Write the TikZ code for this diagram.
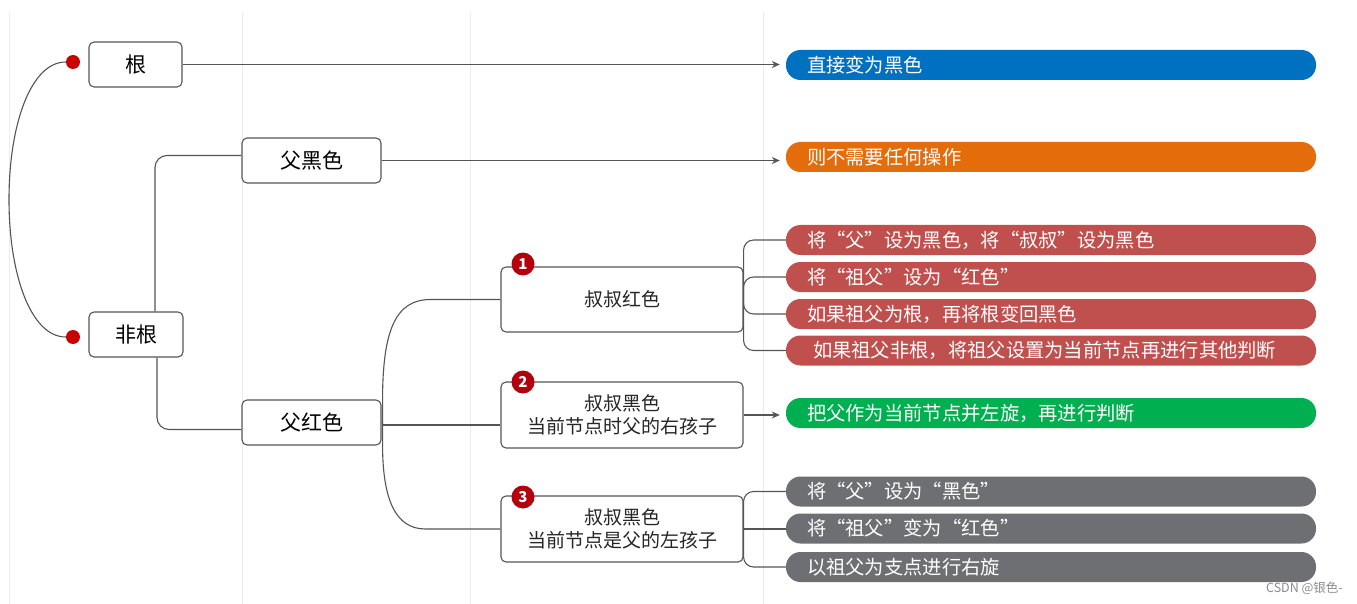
\documentclass[tikz,border=0pt]{standalone}
\usepackage{fontspec}
\setmainfont{Noto Sans CJK SC}
\usetikzlibrary{arrows.meta,calc}
\definecolor{cblue}{RGB}{0,112,192}
\definecolor{corange}{RGB}{228,108,10}
\definecolor{cred}{RGB}{192,80,77}
\definecolor{cgreen}{RGB}{0,176,80}
\definecolor{cgray}{RGB}{110,111,115}
\definecolor{cdot}{RGB}{200,0,0}
\definecolor{cbadge}{RGB}{178,0,12}
\definecolor{cline}{RGB}{85,85,85}
\definecolor{cgrid}{RGB}{236,236,236}
\tikzset{
  mainbox/.style={draw=cline, line width=1.1pt, rounded corners=5pt, fill=white,
    text=black, align=center, inner sep=0pt, font=\fontsize{21}{24}\selectfont},
  subbox/.style={draw=cline, line width=1.1pt, rounded corners=5pt, fill=white,
    text=black!85, align=center, inner sep=0pt, minimum width=242pt,
    font=\fontsize{19}{23}\selectfont},
  pill/.style={rounded corners=14.5pt, minimum height=30pt, text width=488pt,
    inner xsep=21pt, inner ysep=0pt, align=left, text=white,
    font=\fontsize{19.3}{22}\selectfont},
  conn/.style={draw=cline, line width=1.1pt},
  arr/.style={conn, -{Stealth[length=8pt,width=7pt]}, shorten >=6pt},
  dot/.style={circle, fill=cdot, minimum size=14pt, inner sep=0pt},
  badge/.style={circle, fill=cbadge, minimum size=23pt, inner sep=0pt, text=white,
    font=\fontsize{15}{15}\selectfont\bfseries},
  gridline/.style={draw=cgrid, line width=1pt}
}
\begin{document}
\begin{tikzpicture}[x=1pt,y=-1pt]
\useasboundingbox (0,0) rectangle (1357,604);
\fill[white] (0,0) rectangle (1357,604);
% faint guide lines
\draw[gridline] (9,12) -- (9,604);
\draw[gridline] (242,12) -- (242,604);
\draw[gridline] (470,12) -- (470,604);
\draw[gridline] (763,12) -- (763,604);

% main boxes
\node[mainbox, minimum width=93pt, minimum height=45pt] (root) at (135.5,64.5) {根};
\node[mainbox, minimum width=94pt, minimum height=45pt] (nonroot) at (136,334.5) {非根};
\node[mainbox, minimum width=139pt, minimum height=45pt] (fh) at (311.5,160.5) {父黑色};
\node[mainbox, minimum width=139pt, minimum height=45pt] (fr) at (311.5,422.5) {父红色};

\node[subbox, minimum height=65pt] (b1) at (622,299.5) {叔叔红色};
\node[subbox, minimum height=66pt] (b2) at (622,415) {叔叔黑色\\当前节点时父的右孩子};
\node[subbox, minimum height=66pt] (b3) at (622,529) {叔叔黑色\\当前节点是父的左孩子};

% badges
\node[badge] (n1) at (523,264) {1};
\node[badge] (n2) at (523,382) {2};
\node[badge] (n3) at (523,497) {3};

% red dots
\node[dot] (d1) at (73,62) {};
\node[dot] (d2) at (73,337) {};

% pills
\node[pill, fill=cblue] (blue) at (1051,65) {直接变为黑色};
\node[pill, fill=corange] (orange) at (1051,157) {则不需要任何操作};
\node[pill, fill=cred] (r1) at (1051,240) {将“父”设为黑色，将“叔叔”设为黑色};
\node[pill, fill=cred] (r2) at (1051,277) {将“祖父”设为“红色”};
\node[pill, fill=cred] (r3) at (1051,314) {如果祖父为根，再将根变回黑色};
\node[pill, fill=cred] (r4) at (1051,350.5) {\hspace*{6pt}如果祖父非根，将祖父设置为当前节点再进行其他判断};
\node[pill, fill=cgreen] (green) at (1051,413) {把父作为当前节点并左旋，再进行判断};
\node[pill, fill=cgray] (g1) at (1051,491.5) {将“父”设为“黑色”};
\node[pill, fill=cgray] (g2) at (1051,528.5) {将“祖父”变为“红色”};
\node[pill, fill=cgray] (g3) at (1051,567) {以祖父为支点进行右旋};

% left curve between dots
\coordinate (lm) at (9,199.5);
\draw[conn] (d1.west) .. controls (31,62) and (9,124) .. (lm)
  .. controls (9,275) and (31,337) .. (d2.west);

% root -> blue
\draw[arr] (root.east) -- (root.east -| blue.west);

% nonroot branches
\draw[conn, rounded corners=12pt] ($(nonroot.north)+(19,0)$) |- ($(fh.west)+(0,-5)$);
\draw[conn, rounded corners=12pt] ($(nonroot.south)+(21,0)$) |- ($(fr.west)+(0,7)$);

% fh -> orange
\draw[arr] (fh.east) -- (fh.east -| orange.west);

% fr branches
\draw[conn] (fr.east) -- ++(1,0) -- ++(0,-22)
  .. controls ++(0,-70) and ($(b1.west)+(-105,0)$) .. ($(b1.west)+(-70,0)$) -- (b1.west);
\coordinate (fm) at ($(fr.east)+(0,2.5)$);
\draw[conn] (fm) -- (fm -| b2.west);
\draw[conn] (fr.east) -- ++(1,0) -- ++(0,22)
  .. controls ++(0,55) and ($(b3.west)+(-105,0)$) .. ($(b3.west)+(-75,0)$) -- (b3.west);

% b1 -> red pills
\draw[conn, rounded corners=10pt] (b1.east) |- (r1.west);
\draw[conn, rounded corners=10pt] (b1.east) |- (r2.west);
\draw[conn, rounded corners=10pt] (b1.east) |- (r3.west);
\draw[conn, rounded corners=10pt] (b1.east) |- (r4.west);

% b2 -> green
\draw[arr] (b2.east) -- (b2.east -| green.west);

% b3 -> gray pills
\draw[conn, rounded corners=10pt] (b3.east) |- (g1.west);
\draw[conn] (b3.east) -- (b3.east -| g2.west);
\draw[conn, rounded corners=10pt] (b3.east) |- (g3.west);

% watermark
\node[text=black!45, font=\fontsize{12.5}{14}\selectfont, anchor=east, inner sep=0pt] (wm) at (1343,588) {CSDN @银色-};
\end{tikzpicture}
\end{document}
